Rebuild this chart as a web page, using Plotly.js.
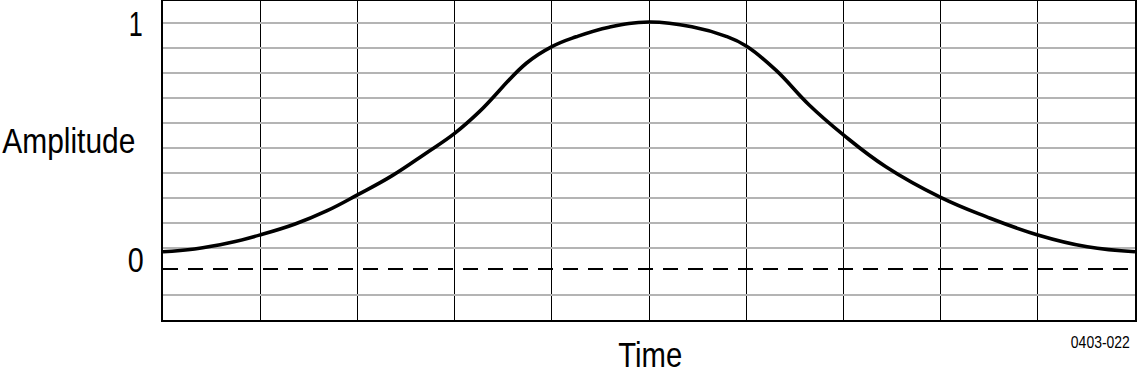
<!DOCTYPE html>
<html>
<head>
<meta charset="utf-8">
<script src="https://cdn.plot.ly/plotly-3.0.1.min.js"></script>
<style>
  html, body { margin: 0; padding: 0; background: #fff; }
  #chart { width: 1138px; height: 378px; }
</style>
</head>
<body>
<div id="chart"></div>
<script>
// Time in graticule divisions (0..10), amplitude normalised (0..1)
const time = [0, 0.325, 0.683, 1.0, 1.359, 1.683, 2.0, 2.354, 2.702, 3.0, 3.255, 3.738, 4.0, 4.251, 4.589, 5.0,
              5.441, 5.786, 6.0, 6.303, 6.648, 7.0, 7.437, 8.0, 8.469, 9.0, 9.509, 10.0];
const amplitude = [0.070, 0.081, 0.106, 0.138, 0.182, 0.235, 0.300, 0.377, 0.468, 0.549, 0.637, 0.833, 0.900, 0.940, 0.979, 1.0,
                   0.981, 0.943, 0.903, 0.806, 0.664, 0.543, 0.414, 0.290, 0.212, 0.138, 0.090, 0.070];
// horizontal graticule levels (amplitude units)
const gridLevels = [0.996, 0.895, 0.794, 0.692, 0.591, 0.490, 0.389, 0.287, 0.186, 0.085, -0.105];
const yLabels = ["1", "0"];
const yLabelValues = [1, 0];
const xTitle = "Time";
const yTitle = "Amplitude";
const figId = "0403-022";

const FONT = '"Liberation Sans", Arial, sans-serif';

const annotations = [
  {text: yLabels[0], xref: 'paper', yref: 'y', x: -0.0288, y: yLabelValues[0], xanchor: 'center', yanchor: 'middle', yshift: -2, showarrow: false, font: {size: 35, color: '#000', family: FONT}},
  {text: yLabels[1], xref: 'paper', yref: 'y', x: -0.0288, y: yLabelValues[1], xanchor: 'center', yanchor: 'middle', yshift: 9, showarrow: false, font: {size: 35, color: '#000', family: FONT}},
  {text: yTitle, xref: 'paper', yref: 'paper', x: -0.0962, y: 0.562, xanchor: 'center', yanchor: 'middle', showarrow: false, font: {size: 35, color: '#000', family: FONT}},
  {text: xTitle, xref: 'paper', yref: 'paper', x: 0.501, y: -0.108, xanchor: 'center', yanchor: 'middle', showarrow: false, font: {size: 35, color: '#000', family: FONT}},
  {text: figId, xref: 'paper', yref: 'paper', x: 0.997, y: -0.072, xanchor: 'right', yanchor: 'middle', showarrow: false, font: {size: 17, color: '#000', family: FONT}}
];
// condensed widths (px) of the narrow typeface used in the original
const condensedWidth = {"Amplitude": 133, "Time": 64, "0403-022": 59, "1": 14, "0": 16};

const trace = {
  x: time, y: amplitude, type: 'scatter', mode: 'lines',
  line: {color: '#000', width: 3.6, shape: 'spline', smoothing: 1.2},
  hoverinfo: 'skip', showlegend: false
};

const layout = {
  width: 1138, height: 378,
  margin: {l: 163, r: 3, t: 1, b: 58, pad: 0},
  paper_bgcolor: '#fff', plot_bgcolor: '#fff',
  showlegend: false,
  font: {family: FONT, color: '#000'},
  xaxis: {
    range: [0, 10], tickmode: 'linear', tick0: 0, dtick: 1,
    showgrid: true, gridcolor: '#000', gridwidth: 1,
    showticklabels: false, ticks: '', zeroline: false,
    showline: true, linecolor: '#000', linewidth: 2, mirror: true, fixedrange: true
  },
  yaxis: {
    range: [-0.2065, 1.085], tickmode: 'array', tickvals: gridLevels,
    showgrid: true, gridcolor: '#b4b4b4', gridwidth: 1.5,
    showticklabels: false, ticks: '', zeroline: false,
    showline: true, linecolor: '#000', linewidth: 2, mirror: true, fixedrange: true
  },
  shapes: [
    {type: 'line', xref: 'paper', yref: 'y', x0: 0, x1: 1, y0: 0, y1: 0, layer: 'below',
     line: {color: '#000', width: 2, dash: '15px,10px'}}
  ],
  annotations: annotations
};

function condense() {
  document.querySelectorAll('#chart .annotation-text').forEach(function (t) {
    const w = condensedWidth[t.textContent];
    if (!w) return;
    const bb = t.getBBox();
    if (bb.width <= w) return;
    const cx = bb.x + bb.width / 2;
    const right = bb.x + bb.width;
    const k = w / bb.width;
    const ax = (t.textContent === figId) ? right : cx;
    t.setAttribute('transform', 'translate(' + ax + ',0) scale(' + k + ',1) translate(' + (-ax) + ',0)');
  });
}

Plotly.newPlot('chart', [trace], layout, {staticPlot: true, displayModeBar: false}).then(condense);
</script>
</body>
</html>
